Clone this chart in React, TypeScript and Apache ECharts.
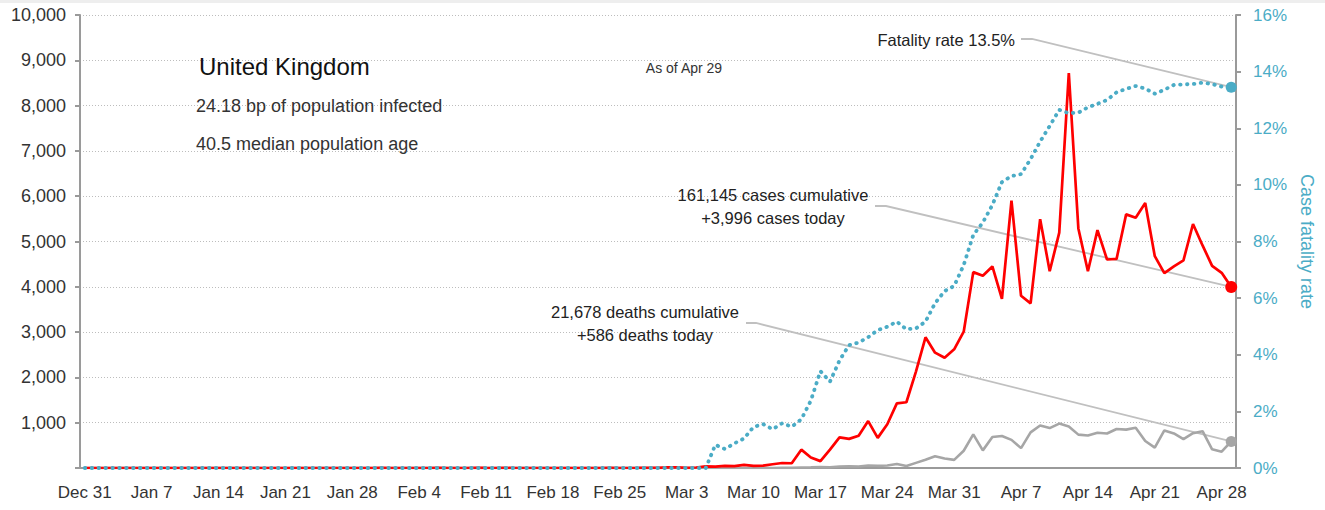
import React, { useEffect, useRef } from 'react';
import * as echarts from 'echarts';

const MONTHS = ['Jan', 'Feb', 'Mar', 'Apr', 'May', 'Jun', 'Jul', 'Aug', 'Sep', 'Oct', 'Nov', 'Dec'];
const START = Date.UTC(2019, 11, 31);
const DAY_COUNT = 121;
const categories: string[] = [];
for (let i = 0; i < DAY_COUNT; i++) {
  const d = new Date(START + i * 86400000);
  categories.push(`${MONTHS[d.getUTCMonth()]} ${d.getUTCDate()}`);
}

// Daily new cases (Dec 31 .. Apr 29)
const newCases: number[] = [
  0, 0, 0, 0, 0, 0, 0, 0, 0, 0, 0, 0, 0, 0, 0, 0, 0, 0, 0, 0, 0, 0, 0, 0, 0, 0, 0, 0, 0, 0, 0,
  2, 0, 0, 0, 0, 0, 1, 0, 0, 0, 4, 1, 0, 1, 0, 0, 0, 0, 0, 0, 0, 0, 0, 0, 4, 0, 0, 2, 5, 3,
  12, 13, 4, 11, 34, 30, 48, 43, 67, 48, 52, 83, 110, 105, 405, 232, 152, 407, 676, 643,
  714, 1035, 665, 967, 1427, 1452, 2129, 2885, 2546, 2433, 2619,
  3009, 4324, 4244, 4450, 3735, 5903, 3802, 3634, 5491, 4344, 5195, 8719, 5288, 4342, 5252,
  4603, 4617, 5599, 5525, 5850, 4676, 4301, 4451, 4583, 5386, 4913, 4463, 4309, 3996,
];

// Daily new deaths
const newDeaths: number[] = [
  0, 0, 0, 0, 0, 0, 0, 0, 0, 0, 0, 0, 0, 0, 0, 0, 0, 0, 0, 0, 0, 0, 0, 0, 0, 0, 0, 0, 0, 0, 0,
  0, 0, 0, 0, 0, 0, 0, 0, 0, 0, 0, 0, 0, 0, 0, 0, 0, 0, 0, 0, 0, 0, 0, 0, 0, 0, 0, 0, 0, 0,
  0, 0, 0, 0, 0, 1, 0, 1, 1, 2, 2, 1, 2, 2, 10, 14, 20, 16, 33, 40,
  33, 56, 48, 54, 87, 43, 113, 181, 260, 209, 180,
  381, 743, 389, 684, 708, 621, 439, 786, 938, 881, 980, 917, 737, 717, 778,
  761, 861, 847, 888, 596, 449, 828, 763, 638, 768, 813, 413, 360, 586,
];

// Case fatality rate, %
const fatalityRate: number[] = [
  0, 0, 0, 0, 0, 0, 0, 0, 0, 0, 0, 0, 0, 0, 0, 0, 0, 0, 0, 0, 0, 0, 0, 0, 0, 0, 0, 0, 0, 0, 0,
  0, 0, 0, 0, 0, 0, 0, 0, 0, 0, 0, 0, 0, 0, 0, 0, 0, 0, 0, 0, 0, 0, 0, 0, 0, 0, 0, 0, 0, 0,
  0, 0, 0, 0, 0, 0.82, 0.67, 0.87, 1.04, 1.45, 1.55, 1.37, 1.58, 1.46, 1.72, 2.38, 3.42, 3.05, 3.8, 4.34,
  4.43, 4.62, 4.87, 4.99, 5.17, 4.9, 4.93, 5.17, 5.82, 6.25, 6.43,
  7.17, 8.23, 8.67, 9.29, 10.1, 10.31, 10.38, 10.91, 11.53, 12.08, 12.65, 12.53, 12.55, 12.74, 12.86,
  13.0, 13.27, 13.39, 13.49, 13.4, 13.22, 13.36, 13.53, 13.55, 13.56, 13.61, 13.56, 13.47, 13.45,
];

const leftTicks = { min: 0, max: 10000, interval: 1000 };
const rightTicks = { min: 0, max: 16, interval: 2 };

const country = 'United Kingdom';
const infoLines = ['24.18 bp of population infected', '40.5 median population age'];
const asOf = 'As of Apr 29';
const fatalityLabel = 'Fatality rate 13.5%';
const casesLabels = ['161,145 cases cumulative', '+3,996 cases today'];
const deathsLabels = ['21,678 deaths cumulative', '+586 deaths today'];

const FONT = '"Liberation Sans", Arial, sans-serif';
const RED = '#ff0000';
const GRAY = '#a6a6a6';
const BLUE = '#4bacc6';
const AXIS = '#9a9a9a';
const LEADER = '#c0c0c0';

export default function App() {
  const ref = useRef<HTMLDivElement>(null);

  useEffect(() => {
    if (!ref.current) return;
    const chart = echarts.init(ref.current, undefined, { renderer: 'svg' });
    const last = DAY_COUNT - 1;
    const option: any = {
      animation: false,
      backgroundColor: '#ffffff',
      textStyle: { fontFamily: FONT },
      grid: { left: 80, right: 89, top: 15, bottom: 42, containLabel: false },
      xAxis: {
        type: 'category',
        data: categories,
        boundaryGap: true,
        axisLine: { lineStyle: { color: AXIS, width: 2 } },
        axisTick: { interval: 6, length: 6, lineStyle: { color: AXIS, width: 2 } },
        axisLabel: { interval: 6, margin: 16, fontSize: 17, color: '#333', fontFamily: FONT },
        splitLine: { show: false },
      },
      yAxis: [
        {
          type: 'value',
          position: 'left',
          ...leftTicks,
          axisLine: { show: true, lineStyle: { color: AXIS, width: 2 } },
          axisTick: { show: true, length: 5, lineStyle: { color: AXIS, width: 2 } },
          axisLabel: {
            margin: 14,
            fontSize: 18,
            color: '#333',
            fontFamily: FONT,
            formatter: (v: number) => (v === 0 ? '' : v.toLocaleString('en-US')),
          },
          splitLine: { show: true, lineStyle: { type: [1, 2], color: '#bdbdbd', width: 1 } },
        },
        {
          type: 'value',
          position: 'right',
          ...rightTicks,
          name: 'Case fatality rate',
          nameLocation: 'middle',
          nameRotate: -90,
          nameGap: 56,
          nameTextStyle: { color: BLUE, fontSize: 18, fontFamily: FONT },
          axisLine: { show: true, lineStyle: { color: AXIS, width: 2 } },
          axisTick: { show: true, length: 5, lineStyle: { color: AXIS, width: 2 } },
          axisLabel: { margin: 17, fontSize: 17, color: BLUE, fontFamily: FONT, formatter: '{value}%' },
          splitLine: { show: false },
        },
      ],
      series: [
        {
          name: 'Deaths',
          type: 'line',
          data: newDeaths,
          yAxisIndex: 0,
          showSymbol: false,
          lineStyle: { color: GRAY, width: 2.6 },
          itemStyle: { color: GRAY },
          z: 3,
          markPoint: {
            symbol: 'circle',
            symbolSize: 11,
            label: { show: false },
            itemStyle: { color: GRAY },
            data: [{ coord: [last, newDeaths[last]] }],
          },
        },
        {
          name: 'Cases',
          type: 'line',
          data: newCases,
          yAxisIndex: 0,
          showSymbol: false,
          lineStyle: { color: RED, width: 2.7 },
          itemStyle: { color: RED },
          z: 4,
          markPoint: {
            symbol: 'circle',
            symbolSize: 12,
            label: { show: false },
            itemStyle: { color: RED },
            data: [{ coord: [last, newCases[last]] }],
          },
        },
        {
          name: 'Fatality rate',
          type: 'line',
          data: fatalityRate,
          yAxisIndex: 1,
          showSymbol: false,
          lineStyle: { color: BLUE, width: 3.8, type: [0.5, 6.4], cap: 'round' },
          itemStyle: { color: BLUE },
          z: 5,
          markPoint: {
            symbol: 'circle',
            symbolSize: 11,
            label: { show: false },
            itemStyle: { color: BLUE },
            data: [{ coord: [last, fatalityRate[last]] }],
          },
        },
      ],
    };
    chart.setOption(option);

    const pBlue = chart.convertToPixel({ xAxisIndex: 0, yAxisIndex: 1 }, [last, fatalityRate[last]]) as number[];
    const pRed = chart.convertToPixel({ xAxisIndex: 0, yAxisIndex: 0 }, [last, newCases[last]]) as number[];
    const pGray = chart.convertToPixel({ xAxisIndex: 0, yAxisIndex: 0 }, [last, newDeaths[last]]) as number[];

    const txt = (text: string, x: number, y: number, size: number, align: string, fill = '#222') => ({
      type: 'text',
      z: 20,
      style: { text, x, y, fontSize: size, fontFamily: FONT, fill, align, verticalAlign: 'middle' },
    });
    const leader = (points: number[][]) => ({
      type: 'polyline',
      z: 1,
      shape: { points },
      style: { stroke: LEADER, lineWidth: 1.8, fill: 'none' },
    });

    chart.setOption({
      graphic: [
        { type: 'rect', z: 0, shape: { x: 0, y: 0, width: 1325, height: 3 }, style: { fill: '#eeeeee' } },
        leader([[1021, 39], [1032, 39], [pBlue[0], pBlue[1]]]),
        leader([[875, 206], [886, 206], [pRed[0], pRed[1]]]),
        leader([[746, 323], [756, 323], [pGray[0], pGray[1]]]),
        txt(country, 199, 66, 24, 'left', '#111'),
        txt(infoLines[0], 196, 106, 18, 'left', '#333'),
        txt(infoLines[1], 196, 144, 18, 'left', '#333'),
        txt(asOf, 684, 68, 14, 'center', '#333'),
        txt(fatalityLabel, 1015, 40, 16.5, 'right'),
        txt(casesLabels[0], 773, 195, 16.5, 'center'),
        txt(casesLabels[1], 773, 218, 16.5, 'center'),
        txt(deathsLabels[0], 645, 312, 16.5, 'center'),
        txt(deathsLabels[1], 645, 335, 16.5, 'center'),
      ],
    });

    return () => chart.dispose();
  }, []);

  return (
    <div
      ref={ref}
      style={{ position: 'absolute', left: 0, top: 0, width: 1325, height: 510 }}
    />
  );
}
